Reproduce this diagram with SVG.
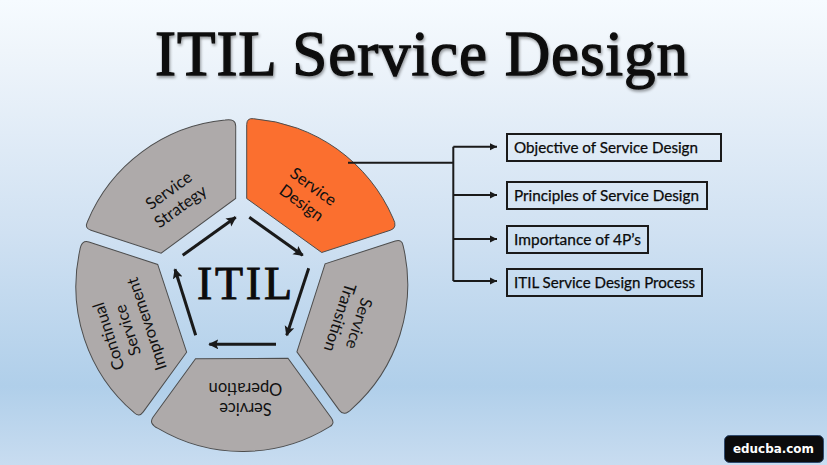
<svg xmlns="http://www.w3.org/2000/svg" xmlns:xlink="http://www.w3.org/1999/xlink" width="827" height="465" viewBox="0 0 827 465">
<style>
.seg{fill:#aeaaaa;stroke:#4d4d4d;stroke-width:1}
.on{fill:#fb6f2f}
.sl{font:16.5px Lato,"Open Sans",sans-serif;fill:#111;text-anchor:middle}
.box{fill:none;stroke:#1a1a1a;stroke-width:2}
.bt{font:15.5px Lato,"Open Sans",sans-serif;fill:#0a0a0a;stroke:#0a0a0a;stroke-width:.25}
.ring{fill:none;stroke:#1a1a1a;stroke-width:3;marker-end:url(#big)}
.link{fill:none;stroke:#1a1a1a;stroke-width:2}
.serif{font-family:"Liberation Serif","Times New Roman",serif;fill:#0c0c0c;stroke:#0c0c0c}
</style>
<defs>
<linearGradient id="bg" x1="0" y1="0" x2="0" y2="1">
<stop offset="0" stop-color="#f6fbff"/><stop offset="0.11" stop-color="#eff5fb"/><stop offset="0.5" stop-color="#d0e1f2"/><stop offset="0.83" stop-color="#b0cfea"/><stop offset="1" stop-color="#c8dcf0"/>
</linearGradient>
<filter id="sh" x="-5%" y="-20%" width="110%" height="140%"><feGaussianBlur in="SourceAlpha" stdDeviation="1.5"/><feOffset dx="1" dy="2"/><feComponentTransfer><feFuncA type="linear" slope="0.4"/></feComponentTransfer><feMerge><feMergeNode/><feMergeNode in="SourceGraphic"/></feMerge></filter>
<marker id="big" markerUnits="userSpaceOnUse" markerWidth="12" markerHeight="12" refX="9" refY="5" orient="auto"><path d="M0 0L10 5L0 10L2 5Z" fill="#1a1a1a"/></marker>
<marker id="small" markerUnits="userSpaceOnUse" markerWidth="10" markerHeight="10" refX="7" refY="4" orient="auto"><path d="M0 0.5L7 4L0 7.5Z" fill="#1a1a1a"/></marker>
<path id="s" d="M5.2-160Q5.2-167 12-166A166 166 0 0 1 151.5-66.5Q156.5-57 149-54.5L80.2-32.2L5.2-86.2Z"/>
</defs>
<rect width="827" height="465" fill="url(#bg)"/>
<text id="title" class="serif" x="155" y="75" font-size="63" stroke-width="1.3" textLength="533" lengthAdjust="spacing" filter="url(#sh)">ITIL Service Design</text>

<g id="node-strategy"><use xlink:href="#s" href="#s" class="seg" transform="translate(241.5 284.7) rotate(-72)"/>
<g transform="translate(175 199) rotate(-36)"><text class="sl" y="-5">Service</text><text class="sl" y="15">Strategy</text></g></g>
<g id="node-design"><use xlink:href="#s" href="#s" class="seg on" transform="translate(241.5 284.7)"/>
<g transform="translate(307 195.3) rotate(36)"><text class="sl" y="-5">Service</text><text class="sl" y="15">Design</text></g></g>
<g id="node-transition"><use xlink:href="#s" href="#s" class="seg" transform="translate(241.5 285.5) rotate(72)"/>
<g transform="translate(348.8 320.3) rotate(108)"><text class="sl" y="-5">Service</text><text class="sl" y="15">Transition</text></g></g>
<g id="node-operation"><use xlink:href="#s" href="#s" class="seg" transform="translate(241.5 285.5) rotate(144)"/>
<g transform="translate(245.5 398.3) rotate(180)"><text class="sl" y="-5">Service</text><text class="sl" y="15">Operation</text></g></g>
<g id="node-improvement"><use xlink:href="#s" href="#s" class="seg" transform="translate(241.5 285.5) rotate(216)"/>
<g transform="translate(128.3 330) rotate(-108)"><text class="sl" y="-15">Continual</text><text class="sl" y="5">Service</text><text class="sl" y="25">Improvement</text></g></g>

<text id="center-label" class="serif" x="197" y="299" font-size="46" stroke-width=".9" textLength="95" lengthAdjust="spacing">ITIL</text>

<g id="connectors">
<path class="ring" d="M182.7 255.3L235.7 217.3"/>
<path class="ring" d="M249.3 217.3L302.7 255.3"/>
<path class="ring" d="M308.7 268.3L286.7 335.3"/>
<path class="ring" d="M276 344.3L209.3 344.3"/>
<path class="ring" d="M195.7 335.3L175 269.3"/>
<path class="link" d="M348 162.7H453.3M453.3 146.7V281"/>
<path class="link" marker-end="url(#small)" d="M453.3 146.7H497"/>
<path class="link" marker-end="url(#small)" d="M453.3 195H497"/>
<path class="link" marker-end="url(#small)" d="M453.3 239H497"/>
<path class="link" marker-end="url(#small)" d="M453.3 281H497"/>
</g>

<g id="node-objective"><rect class="box" x="507" y="134" width="214" height="27"/><text class="bt" x="514" y="153" textLength="184" lengthAdjust="spacingAndGlyphs">Objective of Service Design</text></g>
<g id="node-principles"><rect class="box" x="507" y="182" width="200" height="27"/><text class="bt" x="514" y="201" textLength="185" lengthAdjust="spacingAndGlyphs">Principles of Service Design</text></g>
<g id="node-importance"><rect class="box" x="507" y="226" width="141" height="27"/><text class="bt" x="514" y="245" textLength="127" lengthAdjust="spacingAndGlyphs">Importance of 4P’s</text></g>
<g id="node-process"><rect class="box" x="507" y="269" width="195" height="27"/><text class="bt" x="514" y="288" textLength="181" lengthAdjust="spacingAndGlyphs">ITIL Service Design Process</text></g>

<g id="badge"><rect x="724.5" y="435.5" width="99" height="27" rx="5" fill="#0b0b0d" stroke="#2f4a6e" stroke-width="1"/><text x="733" y="453" font-family="DejaVu Sans,sans-serif" font-weight="bold" font-size="13" fill="#fff" textLength="81" lengthAdjust="spacingAndGlyphs">educba.com</text></g>
</svg>
